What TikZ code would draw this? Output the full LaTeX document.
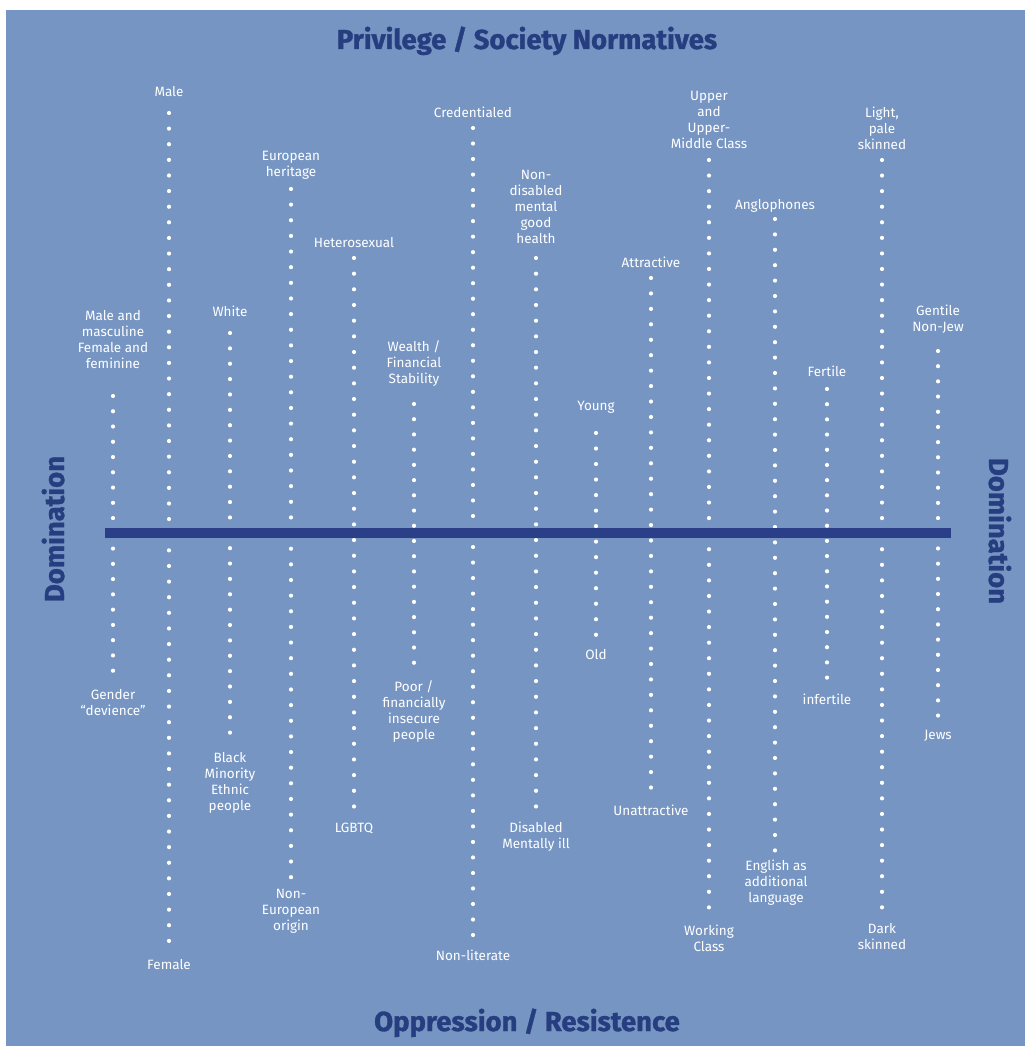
\documentclass[tikz,border=0pt]{standalone}
\usepackage{fontspec}
\setmainfont{Fira Sans}
\newfontfamily\titlefont{Fira Sans}[BoldFeatures={FakeBold=1.2}]
\definecolor{bgblue}{RGB}{118,149,194}
\definecolor{navy}{RGB}{38,62,128}
\definecolor{barblue}{RGB}{43,63,136}
\begin{document}
\begin{tikzpicture}[x=1pt,y=-1pt,
  lbl/.style={text=white, font=\fontsize{13.5}{16}\selectfont, align=center, inner sep=0pt},
  ttl/.style={text=navy, font=\titlefont\fontsize{27.5}{30}\selectfont\bfseries, inner sep=0pt},
  dotcol/.style={white, line width=4.2pt, line cap=round, dash pattern=on 0pt off #1pt},
  barline/.style={barblue, line width=10pt}]
\useasboundingbox (0,0) rectangle (1034,1046);
\fill[white] (0,0) rectangle (1034,1046);
\fill[bgblue] (6,10) rectangle (1025,1046);

% dotted columns
\coordinate (c1t) at (113,396);  \coordinate (c1b) at (113,671);
\coordinate (c2t) at (169,113);  \coordinate (c2b) at (169,942);
\coordinate (c3t) at (230,333);  \coordinate (c3b) at (230,733);
\coordinate (c4t) at (291,189);  \coordinate (c4b) at (291,878);
\coordinate (c5t) at (354,258);  \coordinate (c5b) at (354,807);
\coordinate (c6t) at (414,404);  \coordinate (c6b) at (414,663);
\coordinate (c7t) at (473,128);  \coordinate (c7b) at (473,936);
\coordinate (c8t) at (536,258);  \coordinate (c8b) at (536,807);
\coordinate (c9t) at (596,433);  \coordinate (c9b) at (596,635);
\coordinate (c10t) at (651,278); \coordinate (c10b) at (651,788);
\coordinate (c11t) at (709,160); \coordinate (c11b) at (709,908);
\coordinate (c12t) at (775,219); \coordinate (c12b) at (775,851);
\coordinate (c13t) at (827,389); \coordinate (c13b) at (827,678);
\coordinate (c14t) at (882,160); \coordinate (c14b) at (882,908);
\coordinate (c15t) at (938,351); \coordinate (c15b) at (938,716);

\draw[dotcol=15.26] (c1t) -- (c1b);
\draw[dotcol=15.62] (c2t) -- (c2b);
\draw[dotcol=15.37] (c3t) -- (c3b);
\draw[dotcol=15.64] (c4t) -- (c4b);
\draw[dotcol=15.67] (c5t) -- (c5b);
\draw[dotcol=15.22] (c6t) -- (c6b);
\draw[dotcol=15.52] (c7t) -- (c7b);
\draw[dotcol=15.67] (c8t) -- (c8b);
\draw[dotcol=15.52] (c9t) -- (c9b);
\draw[dotcol=15.44] (c10t) -- (c10b);
\draw[dotcol=15.57] (c11t) -- (c11b);
\draw[dotcol=15.40] (c12t) -- (c12b);
\draw[dotcol=15.19] (c13t) -- (c13b);
\draw[dotcol=15.57] (c14t) -- (c14b);
\draw[dotcol=15.19] (c15t) -- (c15b);

% horizontal bar
\coordinate (barL) at (105,533);
\coordinate (barR) at (951,533);
\draw[barline] (barL) -- (barR);

% top labels
\node[lbl] (t1) at (113,340) {Male and\\masculine\\Female and\\feminine};
\node[lbl] (t2) at (169,92) {Male};
\node[lbl] (t3) at (230,311) {White};
\node[lbl] (t4) at (291,165) {European\\heritage};
\node[lbl] (t5) at (354,243) {Heterosexual};
\node[lbl] (t6) at (414,363) {Wealth /\\Financial\\Stability};
\node[lbl] (t7) at (473,112) {Credentialed};
\node[lbl] (t8) at (536,207) {Non-\\disabled\\mental\\good\\health};
\node[lbl] (t9) at (596,407) {Young};
\node[lbl] (t10) at (651,262) {Attractive};
\node[lbl] (t11) at (709,120) {Upper\\and\\Upper-\\Middle Class};
\node[lbl] (t12) at (775,206) {Anglophones};
\node[lbl] (t13) at (827,371) {Fertile};
\node[lbl] (t14) at (882,128) {Light,\\pale\\skinned};
\node[lbl] (t15) at (938,319) {Gentile\\Non-Jew};

% bottom labels
\node[lbl] (b1) at (113,703) {Gender\\“devience”};
\node[lbl] (b2) at (169,965) {Female};
\node[lbl] (b3) at (230,783) {Black\\Minority\\Ethnic\\people};
\node[lbl] (b4) at (291,911) {Non-\\European\\origin};
\node[lbl] (b5) at (354,828) {LGBTQ};
\node[lbl] (b6) at (414,711) {Poor /\\financially\\insecure\\people};
\node[lbl] (b7) at (473,955) {Non-literate};
\node[lbl] (b8) at (536,837) {Disabled\\Mentally ill};
\node[lbl] (b9) at (596,655) {Old};
\node[lbl] (b10) at (651,810) {Unattractive};
\node[lbl] (b11) at (709,938) {Working\\Class};
\node[lbl] (b12) at (776,883) {English as\\additional\\language};
\node[lbl] (b13) at (827,699) {infertile};
\node[lbl] (b14) at (882,937) {Dark\\skinned};
\node[lbl] (b15) at (938,736) {Jews};

% titles
\node[ttl, anchor=base] (top) at (527,49) {Privilege / Society Normatives};
\node[ttl, anchor=base] (bottom) at (527,1031) {Oppression / Resistence};
\node[ttl, anchor=base, rotate=90] (left) at (64,529) {Domination};
\node[ttl, anchor=base, rotate=-90] (right) at (989,531) {Domination};
\end{tikzpicture}
\end{document}
